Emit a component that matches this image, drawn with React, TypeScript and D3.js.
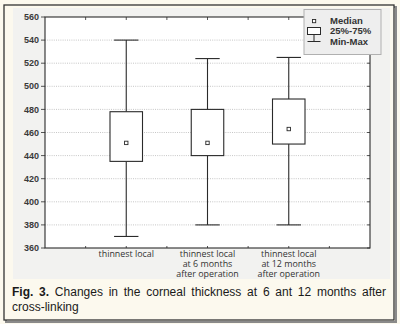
import React, { useLayoutEffect, useRef, useState } from "react";
import * as d3 from "d3";

const categories: string[][] = [
  ["thinnest local"],
  ["thinnest local", "at 6 months", "after operation"],
  ["thinnest local", "at 12 months", "after operation"],
];
const minValues = [370, 380, 380];
const q1Values = [435, 440, 450];
const medianValues = [451, 451, 463];
const q3Values = [478, 480, 489];
const maxValues = [540, 524, 525];
const yTicks = [360, 380, 400, 420, 440, 460, 480, 500, 520, 540, 560];
const xTicks = [0.5, 1, 1.5, 2, 2.5, 3, 3.5];
const legendLabels = ["Median", "25%-75%", "Min-Max"];
const captionBold = "Fig. 3.";
const captionLine1 = "Changes in the corneal thickness at 6 ant 12 months after";
const captionLine2 = "cross-linking";

const W = 400;
const H = 324;
const plot = { left: 45, right: 370, top: 17, bottom: 248 };

export default function App() {
  const x = d3.scaleLinear().domain([0, 4]).range([plot.left, plot.right]);
  const y = d3.scaleLinear().domain([360, 560]).range([plot.bottom, plot.top]);
  const boxW = x(0.4) - x(0);
  const capW = x(0.3) - x(0);

  const capRef = useRef<SVGTextElement>(null);
  const [ws, setWs] = useState(0);
  const capStart = 12;
  const capEnd = 386;
  useLayoutEffect(() => {
    if (capRef.current) {
      const len = capRef.current.getComputedTextLength();
      const spaces = (captionBold + " " + captionLine1).split(" ").length - 1;
      setWs((capEnd - capStart - len) / spaces);
    }
  }, []);

  const dark = "#2a2a2a";
  const font = "'Liberation Sans', Arial, sans-serif";

  return (
    <svg
      width={W}
      height={H}
      style={{ position: "fixed", left: 0, top: 0, display: "block" }}
    >
      <rect x={0} y={0} width={W} height={H} fill="#fcf9ee" />
      <rect x={6} y={7} width={390} height={315} fill="none" stroke="#8a8a8a" strokeWidth={2} />
      <rect x={4} y={5} width={390} height={315} fill="#fcf9ee" stroke="#333" strokeWidth={1.3} />
      <rect x={13} y={8} width={377} height={271} fill="#f2f2f0" />
      <rect
        x={plot.left}
        y={plot.top}
        width={plot.right - plot.left}
        height={plot.bottom - plot.top}
        fill="#ffffff"
      />
      {yTicks
        .filter((t) => t > 360 && t < 560)
        .map((t) => (
          <line
            key={"g" + t}
            x1={plot.left}
            x2={plot.right}
            y1={y(t)}
            y2={y(t)}
            stroke="#b8b8b8"
            strokeWidth={0.8}
            strokeDasharray="1,1.2"
          />
        ))}
      {yTicks.map((t) => (
        <g key={"yt" + t}>
          <line x1={plot.left - 4} x2={plot.left} y1={y(t)} y2={y(t)} stroke={dark} strokeWidth={0.8} />
          <line x1={plot.right - 3} x2={plot.right} y1={y(t)} y2={y(t)} stroke={dark} strokeWidth={0.8} />
          <text
            x={39}
            y={y(t)}
            dy="0.35em"
            textAnchor="end"
            fontFamily={font}
            fontWeight="bold"
            fontSize={9}
            fill="#3a3a3a"
          >
            {t}
          </text>
        </g>
      ))}
      {xTicks.map((t) => (
        <g key={"xt" + t}>
          <line x1={x(t)} x2={x(t)} y1={plot.top} y2={plot.top + 3} stroke={dark} strokeWidth={0.8} />
          <line x1={x(t)} x2={x(t)} y1={plot.bottom} y2={plot.bottom - 2} stroke={dark} strokeWidth={0.8} />
        </g>
      ))}
      <rect
        x={plot.left}
        y={plot.top}
        width={plot.right - plot.left}
        height={plot.bottom - plot.top}
        fill="none"
        stroke={dark}
        strokeWidth={1.1}
      />
      {categories.map((c, i) => {
        const cx = x(i + 1);
        return (
          <g key={"b" + i} stroke={dark} strokeWidth={1.1}>
            <line x1={cx} x2={cx} y1={y(maxValues[i])} y2={y(q3Values[i])} />
            <line x1={cx} x2={cx} y1={y(q1Values[i])} y2={y(minValues[i])} />
            <line x1={cx - capW / 2} x2={cx + capW / 2} y1={y(maxValues[i])} y2={y(maxValues[i])} />
            <line x1={cx - capW / 2} x2={cx + capW / 2} y1={y(minValues[i])} y2={y(minValues[i])} />
            <rect
              x={cx - boxW / 2}
              y={y(q3Values[i])}
              width={boxW}
              height={y(q1Values[i]) - y(q3Values[i])}
              fill="#ffffff"
            />
            <rect
              x={cx - 1.7}
              y={y(medianValues[i]) - 1.7}
              width={3.4}
              height={3.4}
              fill="#ffffff"
              strokeWidth={0.9}
            />
          </g>
        );
      })}
      {categories.map((lines, i) =>
        lines.map((l, j) => (
          <text
            key={"xl" + i + j}
            x={x(i + 1)}
            y={257 + j * 10.2}
            textAnchor="middle"
            fontFamily="'Open Sans', sans-serif"
            fontSize={8.9}
            fill="#333"
          >
            {l}
          </text>
        ))
      )}
      <g>
        <rect x={304} y={9.5} width={77} height={45} fill="#eeeeee" stroke="#b0b0b0" strokeWidth={1} />
        <rect x={312.5} y={19.5} width={3.2} height={3.2} fill="#fff" stroke={dark} strokeWidth={0.9} />
        <rect x={307.5} y={27.5} width={13} height={7} fill="#fff" stroke={dark} strokeWidth={1} />
        <line x1={314} x2={314} y1={34.5} y2={41.5} stroke={dark} strokeWidth={1} />
        <line x1={307.5} x2={320.5} y1={41.5} y2={41.5} stroke={dark} strokeWidth={1} />
        {legendLabels.map((l, i) => (
          <text
            key={"lg" + i}
            x={330}
            y={23.5 + i * 10.8}
            fontFamily={font}
            fontWeight="bold"
            fontSize={9.5}
            fill="#333"
          >
            {l}
          </text>
        ))}
      </g>
      <text
        ref={capRef}
        x={capStart}
        y={296}
        fontFamily={font}
        fontSize={12}
        fill="#1a1a1a"
        wordSpacing={ws}
      >
        <tspan fontWeight="bold">{captionBold}</tspan>
        {" " + captionLine1}
      </text>
      <text x={capStart} y={311} fontFamily={font} fontSize={12} fill="#1a1a1a">
        {captionLine2}
      </text>
    </svg>
  );
}
